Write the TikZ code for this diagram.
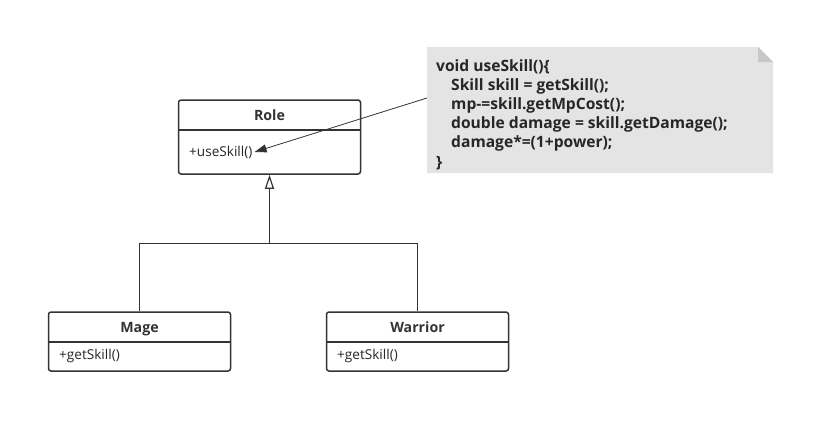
\documentclass[tikz,border=0pt]{standalone}
\usepackage{fontspec}
\setmainfont{Open Sans}
\usetikzlibrary{arrows.meta,positioning}

\begin{document}
\begin{tikzpicture}[x=1pt,y=-1pt]
\tikzset{
  classbox/.style={rectangle,draw=black!80,line width=1.5pt,rounded corners=2.5pt,minimum width=182pt,inner sep=0pt},
  classtitle/.style={font=\bfseries\fontsize{14.2}{16}\selectfont,text=black!80,inner sep=0pt,text height=10.2pt,text depth=0pt},
  classop/.style={font=\fontsize{13.6}{16}\selectfont,text=black!85,inner sep=0pt,anchor=west},
  divider/.style={draw=black!80,line width=1.3pt},
  inherit/.style={draw=black!80,line width=1.6pt,-{Triangle[open,length=14pt,width=9pt,line width=1.2pt]}},
  link/.style={draw=black!80,line width=1.6pt},
  pointer/.style={draw=black!80,line width=0.8pt,-{Triangle[length=12pt,width=8pt]}},
  notetext/.style={font=\bfseries\fontsize{15.6}{19.2}\selectfont,text=black!85,inner sep=0pt,anchor=north west,align=left}
}
\useasboundingbox[fill=white] (0,0) rectangle (836,434);
% note
\definecolor{notegray}{RGB}{228,228,228}
\definecolor{foldgray}{RGB}{200,200,200}
\fill[notegray] (427,47) -- (758,47) -- (773,62) -- (773,173) -- (427,173) -- cycle;
\fill[foldgray] (758,47) -- (773,62) -- (758,62) -- cycle;
\node[notetext] (code) at (436,59) {void useSkill()\{\\
\hspace*{15pt}Skill skill = getSkill();\\
\hspace*{15pt}mp-=skill.getMpCost();\\
\hspace*{15pt}double damage = skill.getDamage();\\
\hspace*{15pt}damage*=(1+power);\\
\}};
\coordinate (notepin) at (427,98);
% classes
\node[classbox,minimum height=74pt] (role) at (269.5,137) {};
\node[classtitle] (roletitle) at (269.5,115) {Role};
\draw[divider] (role.west |- 0,130) -- (role.east |- 0,130);
\node[classop] (roleop) at (189,152) {+useSkill()};
\node[classbox,minimum height=59pt] (mage) at (139.5,341.5) {};
\node[classtitle] (magetitle) at (139.5,327) {Mage};
\draw[divider] (mage.west |- 0,342) -- (mage.east |- 0,342);
\node[classop] (mageop) at (59,356) {+getSkill()};
\node[classbox,minimum height=59pt] (warrior) at (417.5,341.5) {};
\node[classtitle] (warriortitle) at (417.5,327) {Warrior};
\draw[divider] (warrior.west |- 0,342) -- (warrior.east |- 0,342);
\node[classop] (warriorop) at (337,356) {+getSkill()};
% connectors
\coordinate (joint) at (269.5,243.5);
\draw[link] (mage.north) |- (joint) -| (warrior.north);
\draw[inherit] (joint) -- (role.south);
\draw[pointer] (notepin) -- ([xshift=2pt]roleop.east);
\end{tikzpicture}
\end{document}
